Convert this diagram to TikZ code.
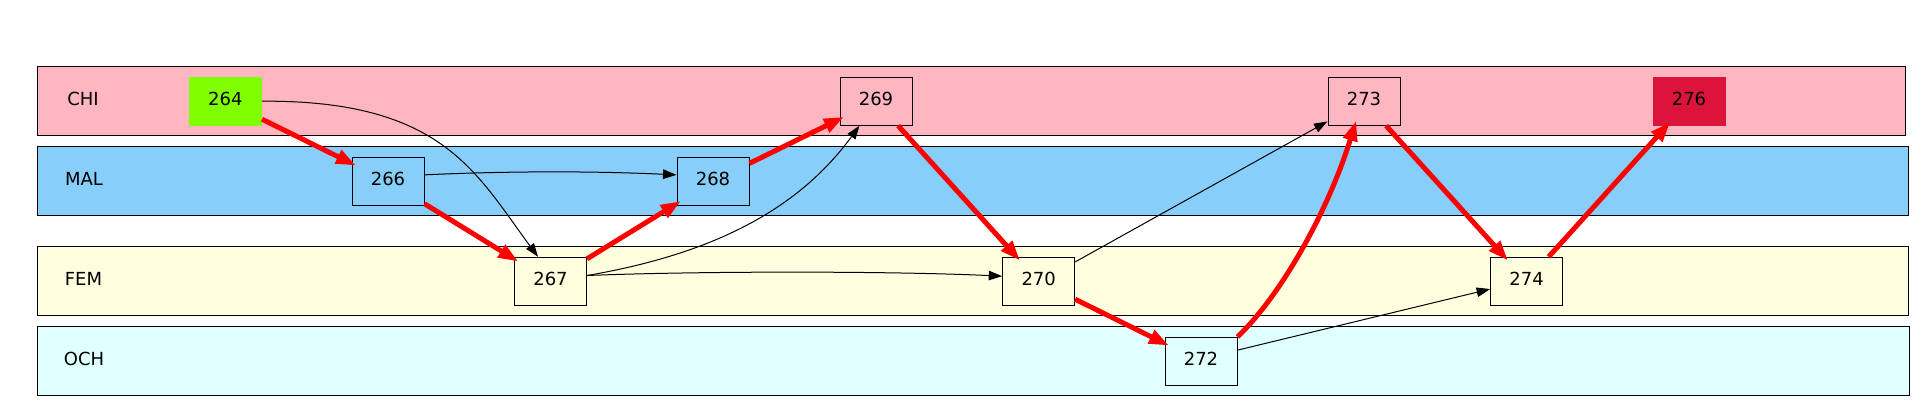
\documentclass[tikz,border=0pt]{standalone}
\usepackage{fontspec}
\setmainfont{DejaVu Sans}
\usetikzlibrary{arrows.meta}
\definecolor{chi}{HTML}{FFB6C1}
\definecolor{mal}{HTML}{87CEFA}
\definecolor{fem}{HTML}{FFFFE0}
\definecolor{och}{HTML}{E0FFFF}
\definecolor{chart}{HTML}{7FFF00}
\definecolor{crim}{HTML}{DC143C}
\begin{document}
\begin{tikzpicture}[x=1pt,y=1pt,
  band/.style={draw=black, line width=1pt, minimum height=69pt, inner sep=0pt},
  lane/.style={font=\fontsize{18pt}{20pt}\selectfont, inner sep=0pt, text height=13pt, text depth=4pt},
  box/.style={draw=black, line width=1pt, minimum width=72pt, minimum height=48pt, inner sep=0pt,
    font=\fontsize{18pt}{20pt}\selectfont, text height=13pt, text depth=4pt},
  solid box/.style={minimum width=73pt, minimum height=49pt, inner sep=0pt,
    font=\fontsize{18pt}{20pt}\selectfont, text height=13pt, text depth=4pt},
  blk/.style={draw=black, line width=1pt, -{Triangle[length=13.5pt,width=9.5pt]}},
  hot/.style={draw=red, line width=5pt, -{Triangle[length=20pt,width=14pt]}, shorten >=-5pt}
]
\useasboundingbox (0,0) rectangle (1925,412);
% bands
\node[band, fill=chi, minimum width=1868pt] (chiband) at (971,310.8) {};
\node[band, fill=mal, minimum width=1871pt] (malband) at (972.5,230.8) {};
\node[band, fill=fem, minimum width=1871pt] (femband) at (972.5,130.8) {};
\node[band, fill=och, minimum width=1872pt] (ochband) at (973,50.8) {};
% band labels
\node[lane] (chil) at (83,310.8) {CHI};
\node[lane] (mall) at (84,230.8) {MAL};
\node[lane] (feml) at (83.5,130.8) {FEM};
\node[lane] (ochl) at (84,50.8) {OCH};
% nodes
\node[solid box, fill=chart] (n264) at (225.4,310.8) {264};
\node[box, fill=mal] (n266) at (388,230.7) {266};
\node[box, fill=fem] (n267) at (550.5,130.7) {267};
\node[box, fill=mal] (n268) at (713,230.7) {268};
\node[box, fill=chi] (n269) at (876,310.8) {269};
\node[box, fill=fem] (n270) at (1038.7,130.7) {270};
\node[box, fill=och] (n272) at (1201,50.7) {272};
\node[box, fill=chi] (n273) at (1364,310.8) {273};
\node[box, fill=fem] (n274) at (1526.6,130.7) {274};
\node[solid box, fill=crim] (n276) at (1689,310.8) {276};
% thin edges
\draw[blk] (n264.east) .. controls (442,312) and (475.5,239.7) .. (n267.117);
\draw[blk] (n266.10) .. controls (508,241) and (593,241) .. (n268.170);
\draw[blk] (n267.9) .. controls (704.9,156.7) and (795.1,197.9) .. (n269.236);
\draw[blk] (n267.9) .. controls (700,141) and (890,141) .. (n270.172);
\draw[blk] (n270.28) -- (n273.209);
\draw[blk] (n272.17) -- (n274.192);
% red edges
\draw[hot] (n264) -- (n266);
\draw[hot] (n266) -- (n267);
\draw[hot] (n267) -- (n268);
\draw[hot] (n268) -- (n269);
\draw[hot] (n269) -- (n270);
\draw[hot] (n270) -- (n272);
\draw[hot] (n272.north east) .. controls (1279.7,115.2) and (1327.2,198.2) .. (n273.249);
\draw[hot] (n273) -- (n274);
\draw[hot] (n274) -- (n276);
\end{tikzpicture}
\end{document}
